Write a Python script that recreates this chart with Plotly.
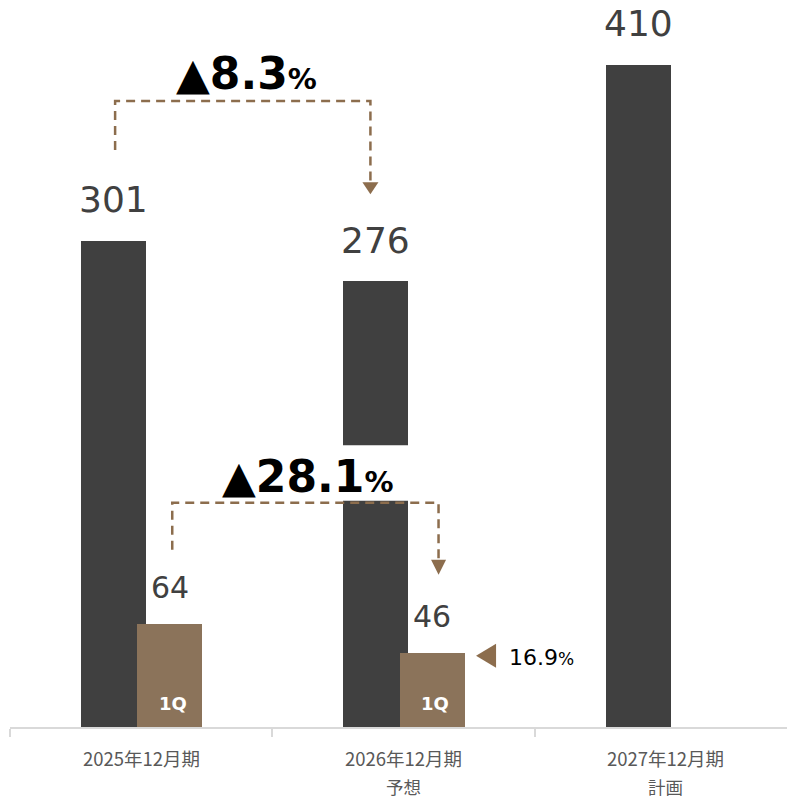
import plotly.graph_objects as go

# ---- data ----
categories = ["2025年12月期", "2026年12月期", "2027年12月期"]
category_sublabels = ["", "予想", "計画"]
annual_values = [301, 276, 410]
q1_values = [64, 46, None]
q1_label = "1Q"
change_annual = "▲8.3"
change_q1 = "▲28.1"
progress_rate = "16.9"

# ---- style / geometry ----
DARK = "#404040"
BROWN = "#8B735A"
LINE_BROWN = "#8C6D4D"
AXIS = "#D9D9D9"
NUM_FONT = "DejaVu Sans"
JP_FONT = "Noto Sans CJK JP"

W, H = 787, 798
ML, MB = 10, 71
PX_X = 262.3          # pixels per category
PLOT_H = H - MB
PX_Y = 1.615          # pixels per unit
YMAX = PLOT_H / PX_Y
XMAX = -0.5 + (W - ML) / PX_X

def dx(px):
    return px / PX_X

def dy(px):
    return px / PX_Y

BAR_W = 0.248
DARK_OFF = -0.229
BROWN_OFF = -0.015
idx = list(range(len(categories)))
dark_c = [i + DARK_OFF + BAR_W / 2 for i in idx]
brown_c = [i + BROWN_OFF + BAR_W / 2 for i in idx]

fig = go.Figure()
fig.add_trace(go.Bar(x=categories, y=annual_values, width=BAR_W, offset=DARK_OFF,
                     marker=dict(color=DARK, line=dict(width=0)), showlegend=False,
                     hoverinfo="skip"))
fig.add_trace(go.Bar(x=categories, y=q1_values, width=BAR_W, offset=BROWN_OFF,
                     marker=dict(color=BROWN, line=dict(width=0)), showlegend=False,
                     hoverinfo="skip"))

shapes = []
# white gap on the 2026 bar to make room for the 1Q comparison
shapes.append(dict(type="rect", xref="x", yref="y", layer="above",
                   x0=1 + DARK_OFF - 0.01, x1=1 + DARK_OFF + BAR_W + 0.01,
                   y0=annual_values[1] - dy(219.5), y1=annual_values[1] - dy(164),
                   fillcolor="white", line=dict(width=0)))

def connector(xl, xr, y_start, y_top, y_end, tip, half_w):
    shapes.append(dict(type="path", xref="x", yref="y", layer="above",
                       path=f"M{xl},{y_start} L{xl},{y_top} L{xr},{y_top} L{xr},{y_end}",
                       line=dict(color=LINE_BROWN, width=2.5, dash="9px,6px")))
    shapes.append(dict(type="path", xref="x", yref="y", layer="above",
                       path=f"M{xr - half_w},{y_end} L{xr + half_w},{y_end} L{xr},{tip} Z",
                       fillcolor=LINE_BROWN, line=dict(width=0)))

# annual comparison connector
connector(dark_c[0] + dx(1.5), dark_c[1] - dx(5.5),
          annual_values[0] + dy(91), annual_values[0] + dy(140),
          annual_values[1] + dy(99), annual_values[1] + dy(87), dx(8))
# 1Q comparison connector
connector(brown_c[0] + dx(2.5), brown_c[1] + dx(6.5),
          q1_values[0] + dy(74), q1_values[0] + dy(121),
          q1_values[1] + dy(93), q1_values[1] + dy(78), dx(7.5))
# progress-rate triangle (pointing left)
tri_x = brown_c[1] + dx(44)
tri_y = q1_values[1] - dy(3)
shapes.append(dict(type="path", xref="x", yref="y", layer="above",
                   path=(f"M{tri_x},{tri_y} L{tri_x + dx(20)},{tri_y + dy(12)} "
                         f"L{tri_x + dx(20)},{tri_y - dy(12)} Z"),
                   fillcolor=LINE_BROWN, line=dict(width=0)))

ann = []
# value labels
for i, v in enumerate(annual_values):
    ann.append(dict(x=dark_c[i], y=v, xref="x", yref="y", text=str(v), showarrow=False,
                    yanchor="middle", yshift=41,
                    font=dict(family=NUM_FONT, size=36, color=DARK)))
for i, v in enumerate(q1_values):
    if v is None:
        continue
    ann.append(dict(x=brown_c[i], y=v, xref="x", yref="y", text=str(v), showarrow=False,
                    yanchor="middle", yshift=36,
                    font=dict(family=NUM_FONT, size=30, color=DARK)))
    ann.append(dict(x=brown_c[i] + dx(3), y=0, xref="x", yref="y", text=f"<b>{q1_label}</b>",
                    showarrow=False, yanchor="middle", yshift=24,
                    font=dict(family=NUM_FONT, size=18, color="white")))

# change labels
ann.append(dict(x=dark_c[0] + dx(133), y=annual_values[0] + dy(167), xref="x", yref="y",
                text=f"<b>{change_annual}<span style='font-size:29px'>%</span></b>",
                showarrow=False, yanchor="middle",
                font=dict(family=NUM_FONT, size=44, color="black")))
ann.append(dict(x=brown_c[0] + dx(138), y=q1_values[0] + dy(147), xref="x", yref="y",
                text=f"<b>{change_q1}<span style='font-size:29px'>%</span></b>",
                showarrow=False, yanchor="middle",
                font=dict(family=NUM_FONT, size=44, color="black")))
ann.append(dict(x=brown_c[1] + dx(75), y=q1_values[1] - dy(5), xref="x", yref="y",
                text=f"{progress_rate}<span style='font-size:17px'>%</span>",
                showarrow=False, xanchor="left", yanchor="middle",
                font=dict(family=NUM_FONT, size=22, color="black")))

# category labels
for i, (c, s) in enumerate(zip(categories, category_sublabels)):
    ann.append(dict(x=i, y=0, xref="x", yref="paper", text=c, showarrow=False,
                    yanchor="middle", yshift=-31,
                    font=dict(family=JP_FONT, size=18.5, color="#595959")))
    if s:
        ann.append(dict(x=i, y=0, xref="x", yref="paper", text=s, showarrow=False,
                        yanchor="middle", yshift=-59,
                        font=dict(family=JP_FONT, size=17.5, color="#595959")))

fig.update_layout(
    width=W, height=H,
    margin=dict(l=ML, r=0, t=0, b=MB),
    paper_bgcolor="white", plot_bgcolor="white",
    shapes=shapes, annotations=ann,
    bargap=0, barmode="overlay",
    hovermode=False,
    xaxis=dict(type="category", range=[-0.5, XMAX], showgrid=False, zeroline=False,
               showline=True, linecolor=AXIS, linewidth=2,
               tickson="boundaries", ticks="outside", ticklen=8, tickwidth=2,
               tickcolor=AXIS, showticklabels=False, fixedrange=True),
    yaxis=dict(range=[0, YMAX], visible=False, fixedrange=True),
)

fig.write_html("out.html", config={"displayModeBar": False, "staticPlot": True},
               post_script="document.body.style.margin='0';document.body.style.overflow='hidden';")
